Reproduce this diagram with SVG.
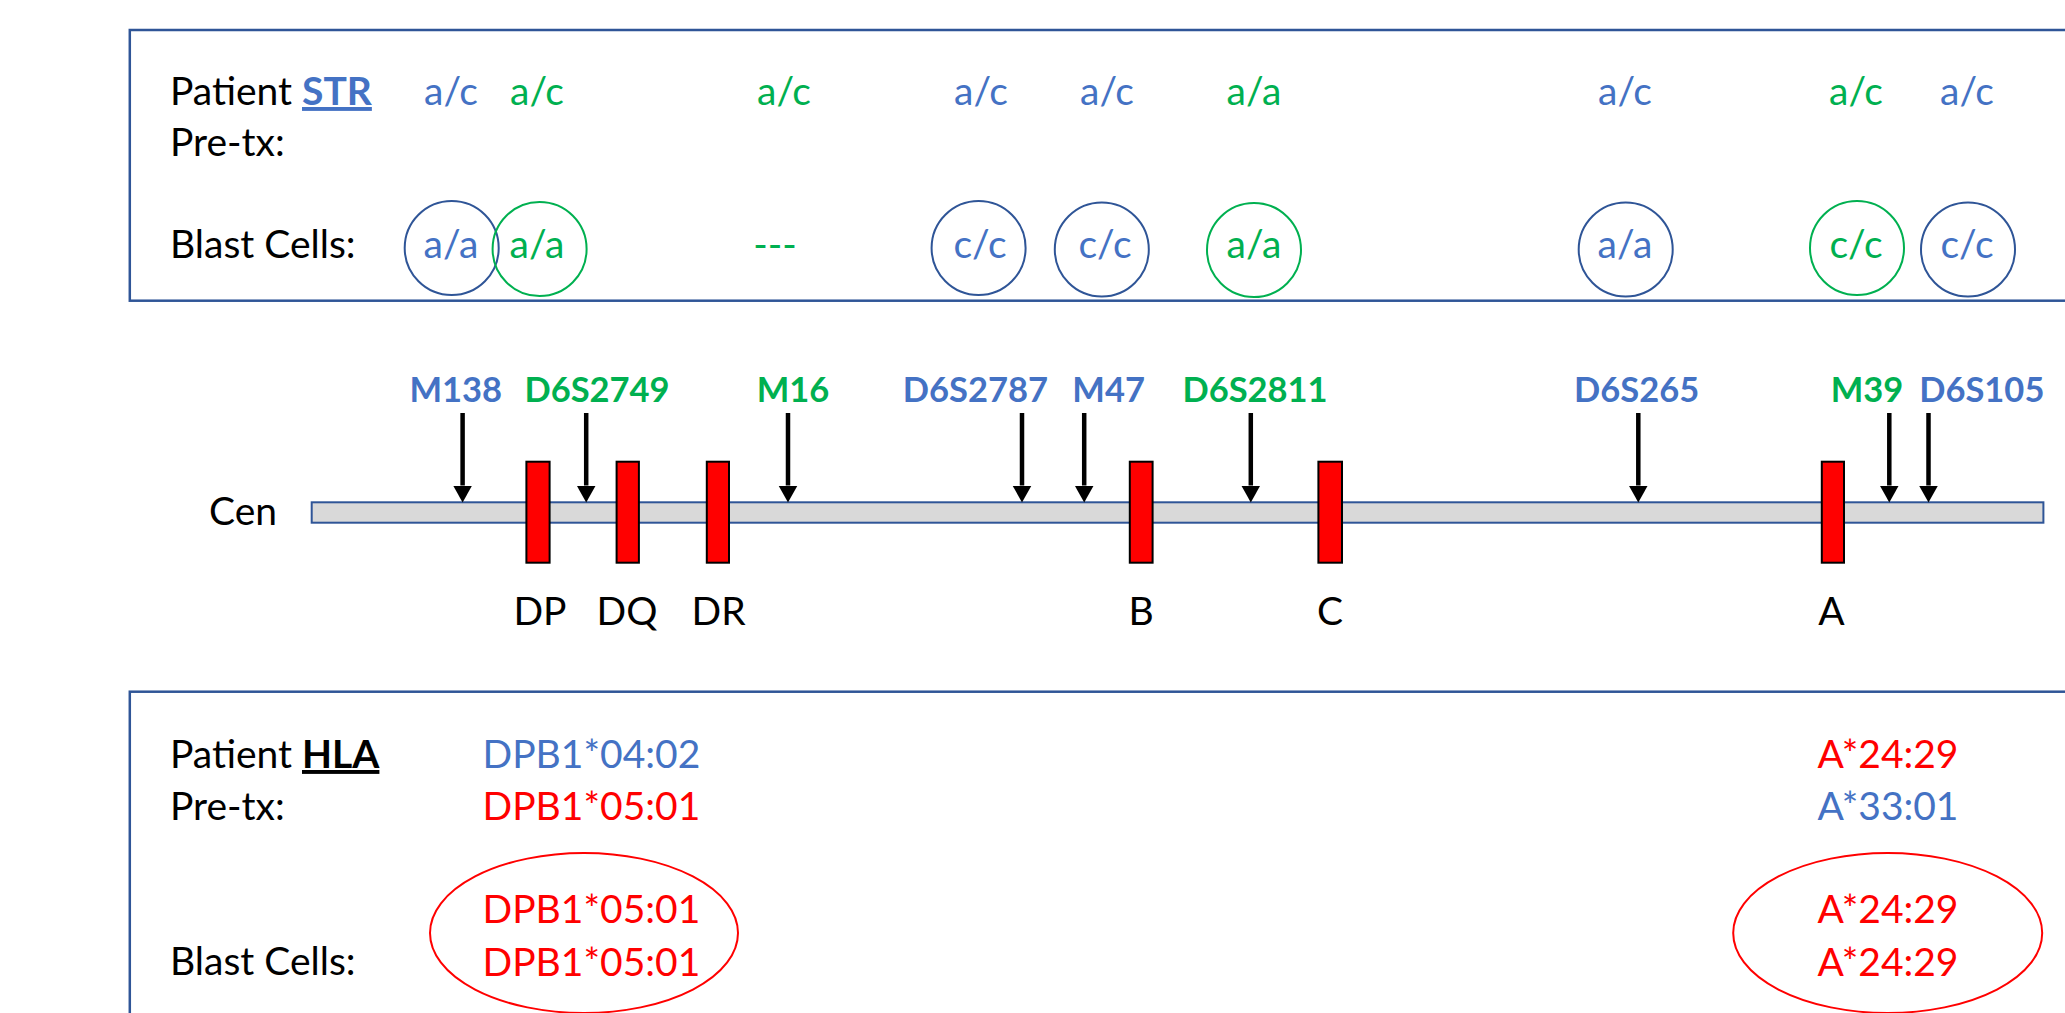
<svg xmlns="http://www.w3.org/2000/svg" width="2065" height="1013" viewBox="0 0 2065 1013">
<style>
  .t{font-family:Lato,"Liberation Sans",sans-serif;font-size:39px;}
  .blk{fill:#000000;}
  .blue{fill:#4472C4;}
  .green{fill:#00B050;}
  .red{fill:#FF0000;}
  .m{text-anchor:middle;}
  .mk{font-family:Lato,"Liberation Sans",sans-serif;font-size:34.5px;font-weight:bold;text-anchor:middle;}
  .g{font-family:Lato,"Liberation Sans",sans-serif;font-size:39px;text-anchor:middle;fill:#000;}
  .box{fill:none;stroke:#2F5597;stroke-width:2.5;}
  .cb{fill:none;stroke:#2F5597;stroke-width:2;}
  .cg{fill:none;stroke:#00B050;stroke-width:2;}
  .cr{fill:none;stroke:#FF0000;stroke-width:2;}
  .gene{fill:#FF0000;stroke:#000;stroke-width:2;}
  .arr{stroke:#000;stroke-width:4.5;fill:none;}
</style>
<defs>
  <marker id="ah" markerUnits="userSpaceOnUse" markerWidth="18" markerHeight="20" refX="0" refY="9.5" orient="auto">
    <path d="M0,0 L17,9.5 L0,19 Z" fill="#000"/>
  </marker>
</defs>
<rect width="2065" height="1013" fill="#fff"/>

<g id="str-box">
  <rect class="box" x="129.8" y="30" width="1960" height="270.7"/>
  <text class="t blk" x="170" y="105">Patient <tspan class="blue" font-weight="bold" text-decoration="underline">STR</tspan></text>
  <text class="t blk" x="170" y="156">Pre-tx:</text>
  <text class="t blk" x="170" y="258">Blast Cells:</text>
</g>

<g id="str-pre">
  <text class="t blue m" x="451" y="105">a/c</text>
  <text class="t green m" x="537" y="105">a/c</text>
  <text class="t green m" x="784" y="105">a/c</text>
  <text class="t blue m" x="981" y="105">a/c</text>
  <text class="t blue m" x="1107" y="105">a/c</text>
  <text class="t green m" x="1254" y="105">a/a</text>
  <text class="t blue m" x="1625" y="105">a/c</text>
  <text class="t green m" x="1856" y="105">a/c</text>
  <text class="t blue m" x="1967" y="105">a/c</text>
</g>

<g id="str-blast">
  <circle class="cb" cx="451.7" cy="248" r="47"/>
  <text class="t blue m" x="451" y="258">a/a</text>
  <circle class="cg" cx="539.6" cy="249" r="47"/>
  <text class="t green m" x="537" y="258">a/a</text>
  <text class="t green m" x="775" y="258">---</text>
  <circle class="cb" cx="978.6" cy="248" r="47"/>
  <text class="t blue m" x="980" y="258">c/c</text>
  <circle class="cb" cx="1101.8" cy="249.5" r="47"/>
  <text class="t blue m" x="1105" y="258">c/c</text>
  <circle class="cg" cx="1254" cy="250" r="47"/>
  <text class="t green m" x="1254" y="258">a/a</text>
  <circle class="cb" cx="1625.7" cy="249.5" r="47"/>
  <text class="t blue m" x="1625" y="258">a/a</text>
  <circle class="cg" cx="1857" cy="248" r="47"/>
  <text class="t green m" x="1856" y="258">c/c</text>
  <circle class="cb" cx="1968" cy="249.5" r="47"/>
  <text class="t blue m" x="1967" y="258">c/c</text>
</g>

<g id="chromosome">
  <text class="g" x="243" y="525">Cen</text>
  <rect x="311.7" y="502.3" width="1731.7" height="20.4" fill="#D9D9D9" stroke="#2F5597" stroke-width="2"/>
</g>

<g id="genes">
  <rect class="gene" x="526.4" y="461.7" width="23.2" height="101"/>
  <text class="g" x="540" y="625">DP</text>
  <rect class="gene" x="616.6" y="461.7" width="22.3" height="101"/>
  <text class="g" x="627" y="625">DQ</text>
  <rect class="gene" x="706.8" y="461.7" width="22.2" height="101"/>
  <text class="g" x="718.6" y="625">DR</text>
  <rect class="gene" x="1129.8" y="461.7" width="22.8" height="101"/>
  <text class="g" x="1141" y="625">B</text>
  <rect class="gene" x="1318.4" y="461.7" width="23.6" height="101"/>
  <text class="g" x="1330" y="625">C</text>
  <rect class="gene" x="1821.8" y="461.7" width="22.2" height="101"/>
  <text class="g" x="1831.5" y="625">A</text>
</g>

<g id="markers">
  <text class="mk blue" x="455.7" y="401.7">M138</text>
  <text class="mk green" x="597" y="401.7">D6S2749</text>
  <text class="mk green" x="793" y="401.7">M16</text>
  <text class="mk blue" x="975.4" y="401.7">D6S2787</text>
  <text class="mk blue" x="1108.6" y="401.7">M47</text>
  <text class="mk green" x="1255" y="401.7">D6S2811</text>
  <text class="mk blue" x="1636.7" y="401.7">D6S265</text>
  <text class="mk green" x="1867" y="401.7">M39</text>
  <text class="mk blue" x="1981.8" y="401.7">D6S105</text>
</g>

<g id="connectors">
  <line class="arr" x1="462.6" y1="413" x2="462.6" y2="485.5" marker-end="url(#ah)"/>
  <line class="arr" x1="586.2" y1="413" x2="586.2" y2="485.5" marker-end="url(#ah)"/>
  <line class="arr" x1="788" y1="413" x2="788" y2="485.5" marker-end="url(#ah)"/>
  <line class="arr" x1="1022" y1="413" x2="1022" y2="485.5" marker-end="url(#ah)"/>
  <line class="arr" x1="1084.2" y1="413" x2="1084.2" y2="485.5" marker-end="url(#ah)"/>
  <line class="arr" x1="1250.8" y1="413" x2="1250.8" y2="485.5" marker-end="url(#ah)"/>
  <line class="arr" x1="1638.3" y1="413" x2="1638.3" y2="485.5" marker-end="url(#ah)"/>
  <line class="arr" x1="1889.3" y1="413" x2="1889.3" y2="485.5" marker-end="url(#ah)"/>
  <line class="arr" x1="1928.5" y1="413" x2="1928.5" y2="485.5" marker-end="url(#ah)"/>
</g>

<g id="hla-box">
  <rect class="box" x="129.8" y="691.7" width="1960" height="400"/>
  <text class="t blk" x="170" y="768">Patient <tspan font-weight="bold" text-decoration="underline">HLA</tspan></text>
  <text class="t blk" x="170" y="820">Pre-tx:</text>
  <text class="t blk" x="170" y="975">Blast Cells:</text>
</g>

<g id="hla-dpb1">
  <text class="t blue m" x="591.4" y="768">DPB1*04:02</text>
  <text class="t red m" x="591.4" y="820">DPB1*05:01</text>
  <ellipse class="cr" cx="584" cy="933" rx="154" ry="80"/>
  <text class="t red m" x="591.4" y="923">DPB1*05:01</text>
  <text class="t red m" x="591.4" y="976">DPB1*05:01</text>
</g>

<g id="hla-a">
  <text class="t red m" x="1888" y="768">A*24:29</text>
  <text class="t blue m" x="1888" y="820">A*33:01</text>
  <ellipse class="cr" cx="1887.7" cy="933" rx="154.5" ry="80"/>
  <text class="t red m" x="1888" y="923">A*24:29</text>
  <text class="t red m" x="1888" y="976">A*24:29</text>
</g>
</svg>
